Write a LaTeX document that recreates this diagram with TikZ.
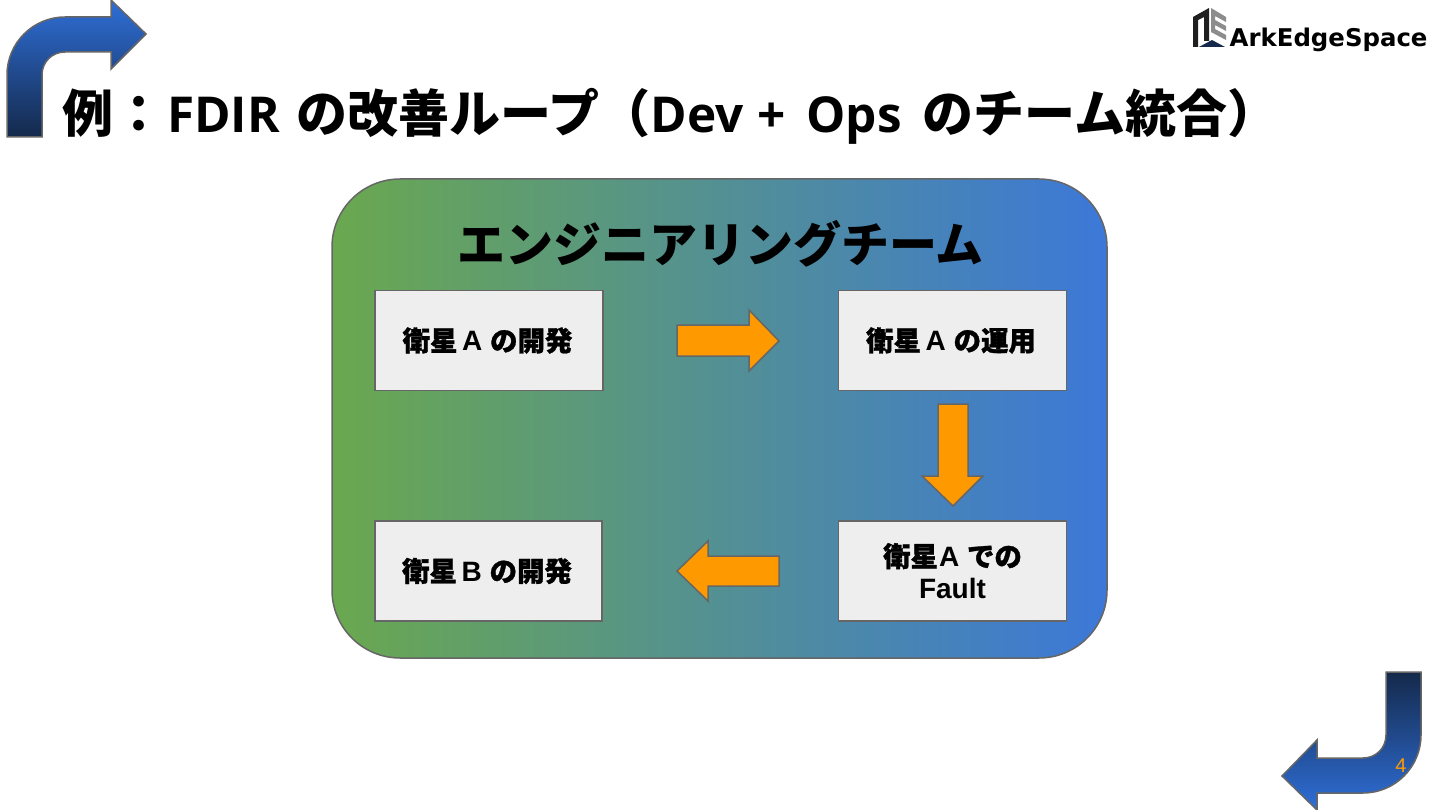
\documentclass[tikz,border=0pt]{standalone}
\usepackage{fontspec}
\setmainfont{Liberation Sans}
\newfontfamily\cjk{Noto Sans CJK JP}
\newfontfamily\cjkheavy[Scale=0.98,BoldFeatures={FakeBold=1.2}]{Noto Sans CJK JP}
\newfontfamily\titlelatin[Scale=0.97]{Open Sans}
\usetikzlibrary{shapes.arrows}
\definecolor{bluetop}{HTML}{2F6FD8}
\definecolor{bluedark}{HTML}{14294B}
\definecolor{edgegray}{HTML}{666666}
\definecolor{orangefill}{HTML}{FF9900}
\definecolor{teamgreen}{HTML}{6AA84F}
\definecolor{teamblue}{HTML}{3C78D8}
\definecolor{boxfill}{HTML}{EEEEEE}
\tikzset{
  x=1pt,y=-1pt,
  bent/.style={draw=edgegray,line width=1.5pt},
  flow/.style={draw=edgegray,line width=1.5pt,fill=orangefill},
  stepbox/.style={draw=edgegray,line width=1.5pt,fill=boxfill,minimum width=228pt,minimum height=100pt,inner sep=0pt,align=center,font=\fontsize{28}{32}\bfseries},
  logogray/.style={fill=black!45,draw=none},
  logoblack/.style={fill=black!88,draw=none},
}
\newcommand{\Cj}[1]{{\cjkheavy #1}}
\newcommand{\Tl}[1]{{\titlelatin #1}}
\begin{document}
\begin{tikzpicture}
\useasboundingbox (0,0) rectangle (1440,810);
\fill[white] (0,0) rectangle (1440,810);
% bent arrows
\path[bent,top color=bluetop,bottom color=bluedark]
  (7,137) -- (7,75) .. controls (7,43) and (33,17) .. (65,17) -- (111,17) -- (111,0) -- (146,34) -- (111,69) -- (111,52) -- (65,52) .. controls (52,52) and (42,62) .. (42,75) -- (42,137) -- cycle;
\path[bent,top color=bluedark,bottom color=bluetop]
  (1421,672) -- (1421,735) .. controls (1421,767) and (1395,793) .. (1363,793) -- (1317,793) -- (1317,810) -- (1282,776) -- (1317,740) -- (1317,758) -- (1363,758) .. controls (1376,758) and (1386,748) .. (1386,735) -- (1386,672) -- cycle;
\node[text=orangefill,font=\fontsize{20}{20}\selectfont] (pagenum) at (1401,766) {4};
% title
\node[anchor=west,inner sep=0pt,font=\cjk\fontsize{51}{52}\bfseries] (title) at (62,116.5) {例：\kern3pt\Tl{FDIR}\kern5pt\ の改善ループ（\Tl{Dev\kern1pt\ +\kern8pt\ Ops}\kern9pt\ のチーム統合）};
% logo
\fill[logoblack] (1193,47) -- (1193,17) -- (1209,8) -- (1209,41) -- (1204,41) -- (1204,17) -- (1198,20) -- (1198,47) -- cycle;
\fill[logogray] (1211,8) -- (1226,17) -- (1226,22) -- (1215,16) -- (1215,20) -- (1226,26) -- (1226,31) -- (1215,25) -- (1215,29) -- (1226,35) -- (1226,40) -- (1211,32) -- cycle;
\fill[bluedark] (1199,47) -- (1212,40) -- (1225,47) -- cycle;
\node[anchor=west,inner sep=0pt,font=\fontsize{24.4}{25}\bfseries] (logo) at (1229.5,39.5) {\fontspec{DejaVu Sans}\bfseries ArkEdgeSpace};
% team panel
\path[draw=edgegray,line width=1.5pt,left color=teamgreen,right color=teamblue,rounded corners=68pt] (332,179) rectangle (1107,658);
\node[font=\cjk\fontsize{48}{52}\bfseries] (team) at (720.5,244) {エンジニアリングチーム};
% boxes
\node[stepbox] (a) at (489,340.5) {\Cj{衛星}\,A \Cj{の開発}\kern3pt};
\node[stepbox] (b) at (952.5,340.5) {\Cj{衛星}\,A \Cj{の運用}\kern3pt};
\node[stepbox] (c) at (952.5,571) {\Cj{衛星}\kern1pt A \Cj{での}\\Fault};
\node[stepbox,minimum width=227pt] (d) at (488.5,571) {\Cj{衛星}\,B \Cj{の開発}\kern3pt};
% block arrows
\path[flow] (677,325) -- (749,325) -- (749,310) -- (779,341) -- (749,371) -- (749,356) -- (677,356) -- cycle;
\path[flow] (938,404) -- (968,404) -- (968,476) -- (983,476) -- (953,506) -- (922,476) -- (938,476) -- cycle;
\path[flow] (779,556) -- (708,556) -- (708,541) -- (677,571) -- (708,601) -- (708,586) -- (779,586) -- cycle;
\end{tikzpicture}
\end{document}
